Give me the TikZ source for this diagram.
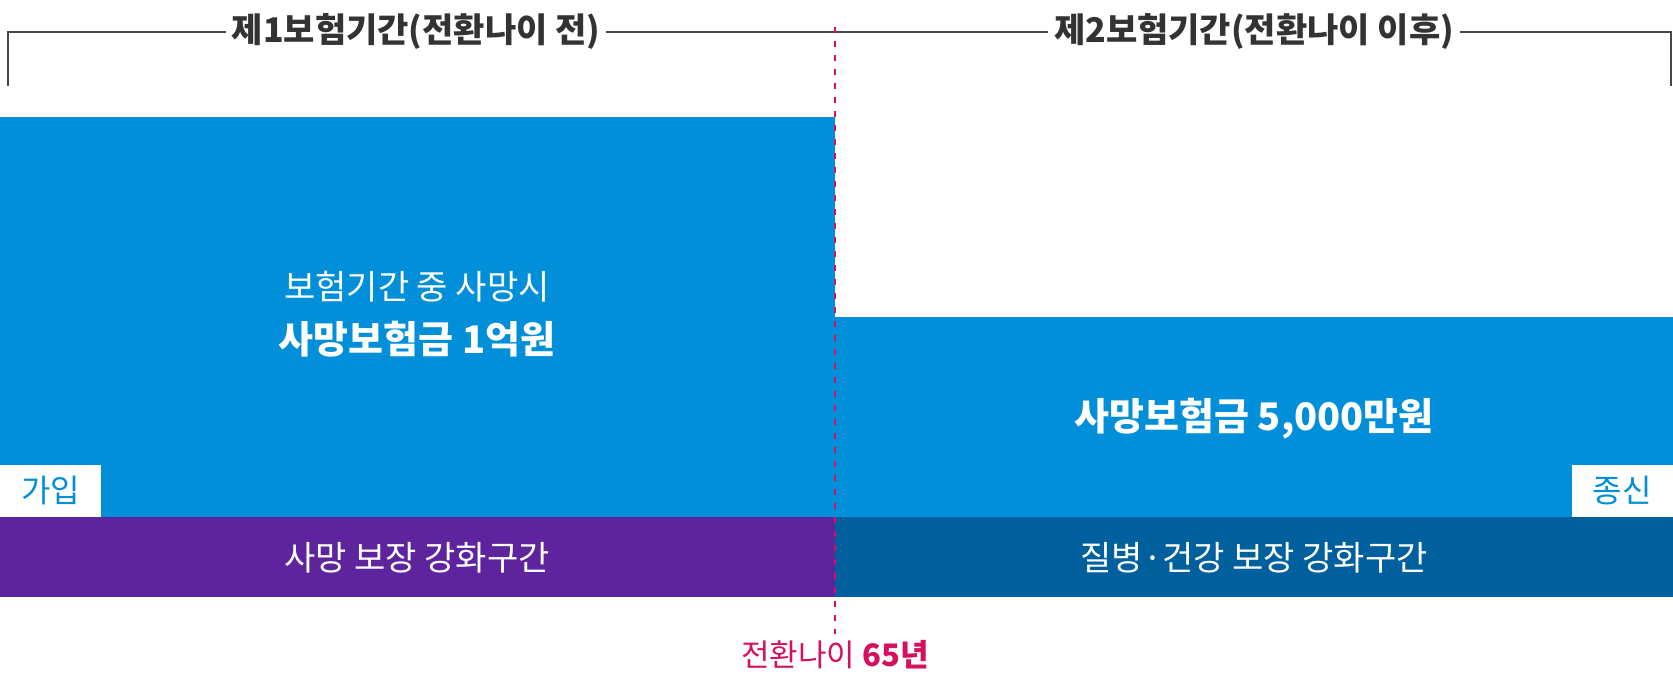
\documentclass[tikz,border=0pt]{standalone}
\usepackage{fontspec}
\setmainfont{Noto Sans CJK KR}
\usetikzlibrary{positioning}
\definecolor{cblue}{HTML}{008FD8}
\definecolor{cdeep}{HTML}{00609E}
\definecolor{cpurple}{HTML}{5E249D}
\definecolor{cpink}{HTML}{D5105E}
\definecolor{cgray}{HTML}{333333}

\begin{document}
\begin{tikzpicture}[x=0.5pt,y=-0.5pt,
   ttl/.style={fill=white,text=cgray,inner xsep=3pt,font=\fontsize{17}{19}\selectfont\bfseries},
   intxt/.style={text=white,font=\fontsize{17}{20}\selectfont},
   bigtxt/.style={text=white,font=\fontsize{19}{22}\selectfont\bfseries},
   tag/.style={fill=white,text=cblue,minimum width=50.5pt,minimum height=26pt,inner sep=0pt,font=\fontsize{16}{18}\selectfont},
   cvline/.style={cpink,line width=1pt,dash pattern=on 3pt off 4pt}]
  \useasboundingbox (0,0) rectangle (1673,680);
  % blocks
  \fill[cblue] (0,117) rectangle (835,517);
  \fill[cblue] (835,317) rectangle (1673,517);
  \fill[cpurple] (0,517) rectangle (835,597);
  \fill[cdeep] (835,517) rectangle (1673,597);
  % bracket with titles
  \draw[cgray!90,line width=0.8pt] (8,86) -- (8,32) -- (1671,32) -- (1671,86);
  \node[ttl] (per1) at (416,32) {제1보험기간(전환나이 전)};
  \node[ttl] (per2) at (1254,32) {제2보험기간(전환나이 이후)};
  % texts in blocks
  \node[intxt] (cond) at (417,287) {보험기간 중 사망시};
  \node[bigtxt] (amt1) at (417,339) {사망보험금 1억원};
  \node[bigtxt] (amt2) at (1254,419) {사망보험금 5,000만원};
  \node[intxt] (zone1) at (417,558) {사망 보장 강화구간};
  \node[intxt] (zone2) at (1254,558) {질병·건강 보장 강화구간};
  \node[tag,anchor=south west] (join) at (0,517) {가입};
  \node[tag,anchor=south east] (life) at (1673,517) {종신};
  % conversion age
  \coordinate (cvtop) at (835,27);
  \node[text=cpink,font=\fontsize{15.5}{18}\selectfont] (cvage) at (835,655) {전환나이 \textbf{65년}};
  \draw[cvline] (cvtop) -- (cvage.north);
\end{tikzpicture}
\end{document}
